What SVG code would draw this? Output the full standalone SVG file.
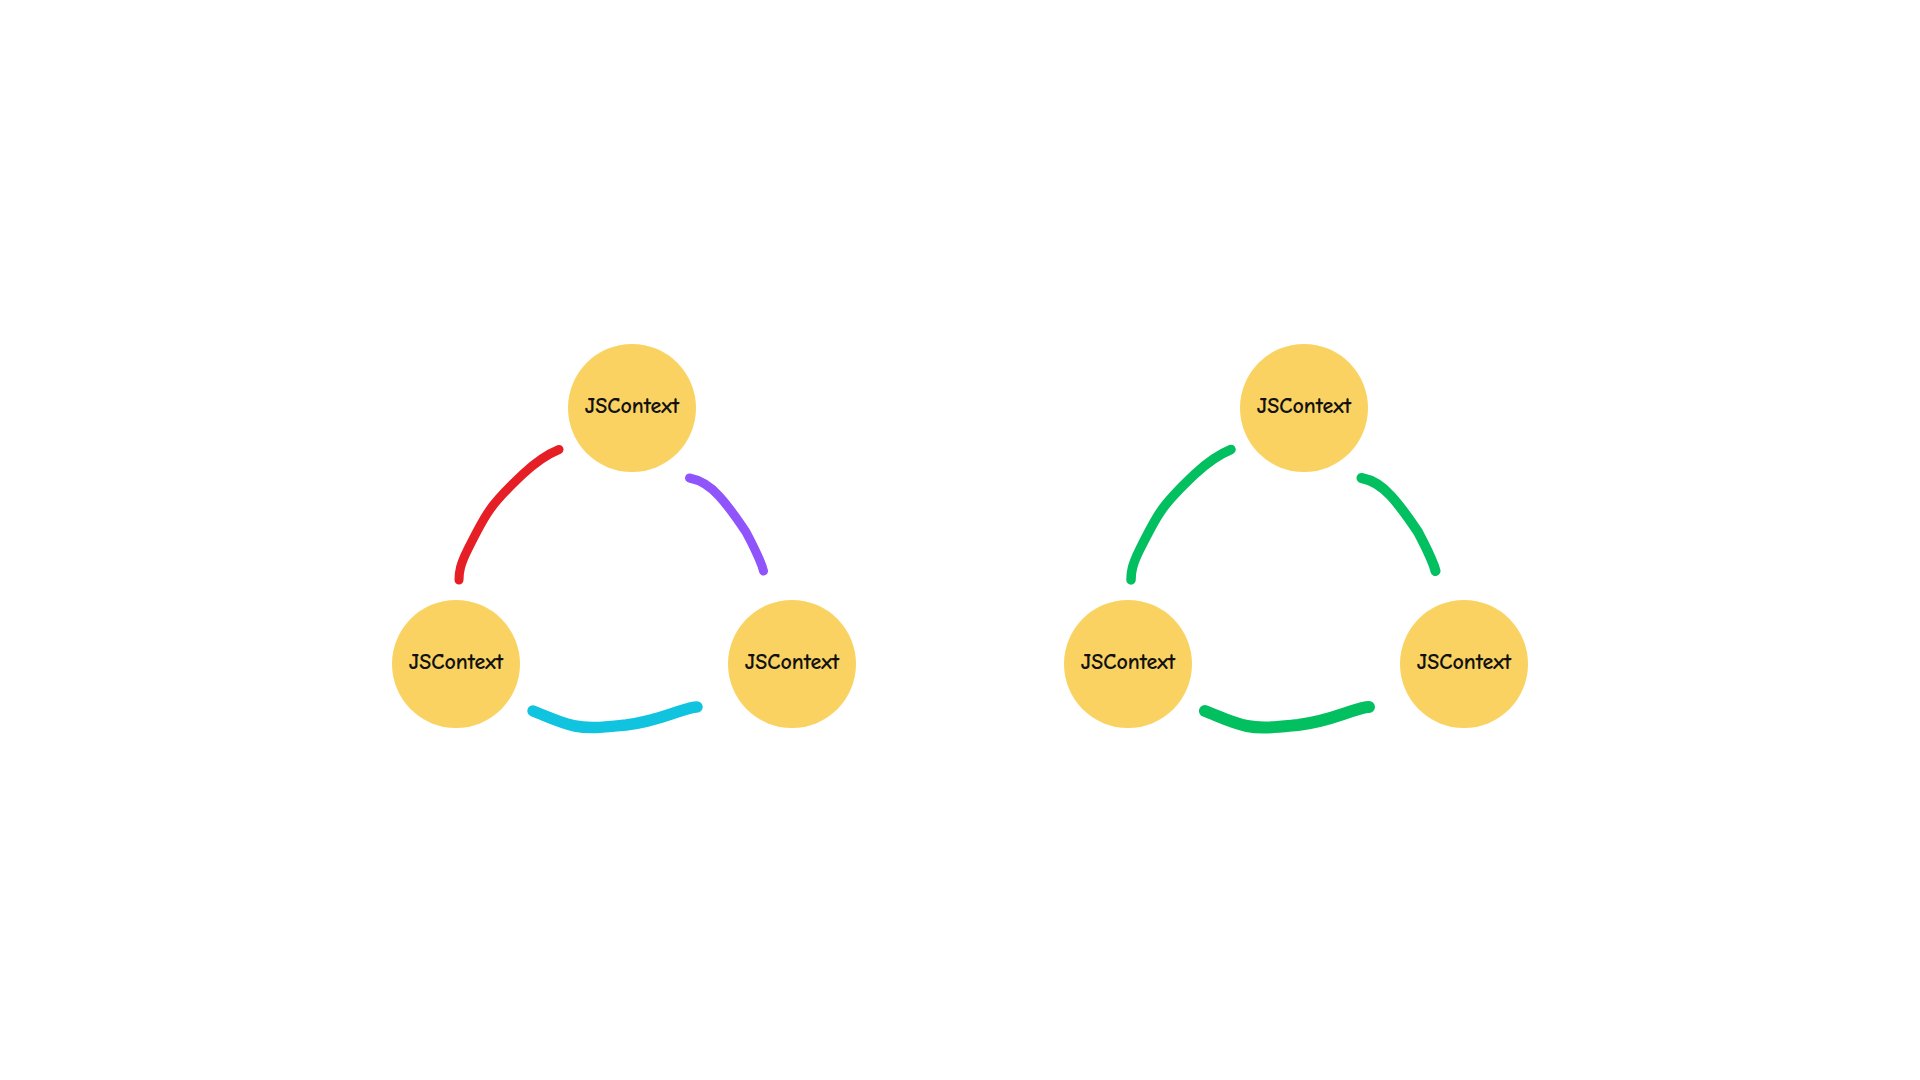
<svg xmlns="http://www.w3.org/2000/svg" width="1920" height="1080" viewBox="0 0 1920 1080">
<style>
.node{fill:#FAD262}
.lbl{font-family:"Comic Neue","Liberation Sans",sans-serif;font-size:22px;font-weight:bold;fill:#111;text-anchor:middle;dominant-baseline:central}
.c{fill:none;stroke-linecap:round;stroke-linejoin:round}
</style>
<rect width="1920" height="1080" fill="#fff"/>
<g id="connectors">
<path class="c" stroke="#E61E25" stroke-width="9" d="M559,449.5 C548,454 538,460 523,474 C505,491 495,502 489,511 C482,521 476,533 468,549 C460,565 459,572 459,580"/>
<path class="c" stroke="#8F54FB" stroke-width="9" d="M689.5,478 C700,480 711,487 719,496 C730,508 738,520 746,532 C754,547 759,558 762,566 L763.5,571"/>
<path class="c" stroke="#10C4E0" stroke-width="11.5" d="M533,711 C546,716 560,723 575,726 C590,729 605,727 626,725 C650,722 665,716 677,712 C686,709 692,707 697,707"/>
<g transform="translate(672,0)">
<path class="c" stroke="#02BF60" stroke-width="9.5" d="M559,449.5 C548,454 538,460 523,474 C505,491 495,502 489,511 C482,521 476,533 468,549 C460,565 459,572 459,580"/>
<path class="c" stroke="#02BF60" stroke-width="10" d="M689.5,478 C700,480 711,487 719,496 C730,508 738,520 746,532 C754,547 759,558 762,566 L763.5,571"/>
<path class="c" stroke="#02BF60" stroke-width="12" d="M533,711 C546,716 560,723 575,726 C590,729 605,727 626,725 C650,722 665,716 677,712 C686,709 692,707 697,707"/>
</g>
</g>
<g id="n1"><circle class="node" cx="632" cy="408" r="64"/><text class="lbl" x="632" y="406">JSContext</text></g>
<g id="n2"><circle class="node" cx="456" cy="664" r="64"/><text class="lbl" x="456" y="662">JSContext</text></g>
<g id="n3"><circle class="node" cx="792" cy="664" r="64"/><text class="lbl" x="792" y="662">JSContext</text></g>
<g id="n4"><circle class="node" cx="1304" cy="408" r="64"/><text class="lbl" x="1304" y="406">JSContext</text></g>
<g id="n5"><circle class="node" cx="1128" cy="664" r="64"/><text class="lbl" x="1128" y="662">JSContext</text></g>
<g id="n6"><circle class="node" cx="1464" cy="664" r="64"/><text class="lbl" x="1464" y="662">JSContext</text></g>
</svg>
